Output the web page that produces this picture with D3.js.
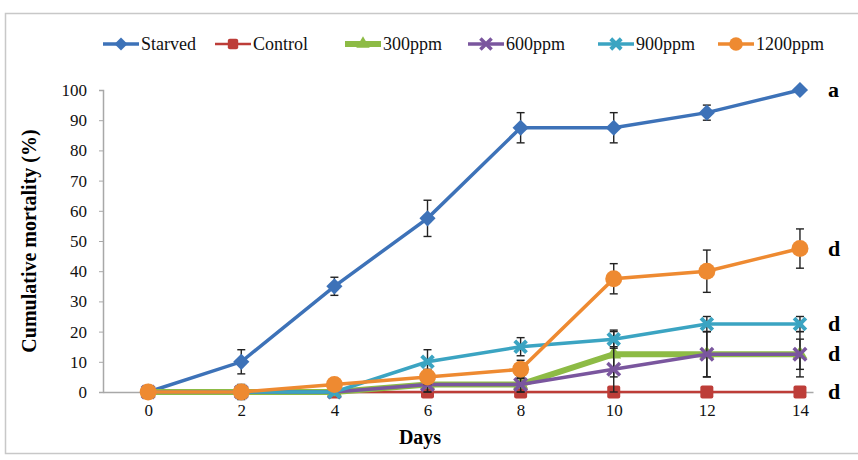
<!DOCTYPE html>
<html>
<head>
<meta charset="utf-8">
<script src="https://cdn.jsdelivr.net/npm/d3@7"></script>
<style>
  body { margin: 0; background: #fff; }
  svg { display: block; }
  svg text { font-family: "Liberation Serif", "Times New Roman", serif; }
</style>
</head>
<body>
<div id="chart"></div>
<script>
// data
const days = [0, 2, 4, 6, 8, 10, 12, 14];
const yTicks = [0, 10, 20, 30, 40, 50, 60, 70, 80, 90, 100];
const seriesNames = ["Starved", "Control", "300ppm", "600ppm", "900ppm", "1200ppm"];
const starved = [0, 10, 35, 57.5, 87.5, 87.5, 92.5, 100];
const starvedErr = [0, 4, 3, 6, 5, 5, 2.5, 0];
const control = [0, 0, 0, 0, 0, 0, 0, 0];
const controlErr = [0, 0, 0, 0, 0, 0, 0, 0];
const ppm300 = [0, 0, 0, 2.5, 2.5, 12.5, 12.5, 12.5];
const ppm300Err = [0, 2.5, 0, 2.5, 2.5, 7.5, 7.5, 5];
const ppm600 = [0, 0, 0, 2.5, 2.5, 7.5, 12.5, 12.5];
const ppm600Err = [0, 0, 0, 2.5, 2.5, 7.5, 7.5, 7.5];
const ppm900 = [0, 0, 0, 10, 15, 17.5, 22.5, 22.5];
const ppm900Err = [0, 0, 0, 4, 3, 3, 2.5, 2.5];
const ppm1200 = [0, 0, 2.5, 5, 7.5, 37.5, 40, 47.5];
const ppm1200Err = [0, 0, 2, 2.5, 3, 5, 7, 6.5];
const letters = ["a", "d", "d", "d", "d"];
const letterValues = [100, 47.5, 22.5, 12.5, 0];

const colors = ["#3d72b8", "#bd3d38", "#8dbb45", "#7a569e", "#3ba4c2", "#ee8a31"];
const shapes = ["diamond", "square", "triangle", "cross", "star", "circle"];
const values = [starved, control, ppm300, ppm600, ppm900, ppm1200];
const errors = [starvedErr, controlErr, ppm300Err, ppm600Err, ppm900Err, ppm1200Err];
const widths = [3.5, 2.5, 6, 3.5, 3.5, 3.5];

const width = 858, height = 460;
const svg = d3.select("#chart").append("svg")
  .attr("width", width).attr("height", height);

// outer frame
svg.append("rect")
  .attr("x", 5.5).attr("y", 13.5)
  .attr("width", 860).attr("height", 440)
  .attr("fill", "none").attr("stroke", "#c8c8c8").attr("stroke-width", 1.5);

const x = d3.scaleLinear().domain([-0.97, 14.28]).range([103, 813]);
const y = d3.scaleLinear().domain([0, 100]).range([392, 90]);

// axes
const yAxis = svg.append("g")
  .attr("transform", `translate(${x(-0.97)},0)`)
  .call(d3.axisLeft(y).tickValues(yTicks).tickSize(4).tickPadding(12));
const xAxis = svg.append("g")
  .attr("transform", `translate(0,${y(0)})`)
  .call(d3.axisBottom(x).tickValues(days).tickSize(0).tickPadding(12));
[xAxis, yAxis].forEach((g) => {
  g.attr("font-family", null);
  g.select(".domain").attr("stroke", "#a8a8a8").attr("stroke-width", 1.5);
  g.selectAll(".tick line").attr("stroke", "#a8a8a8");
  g.selectAll("text").attr("font-size", 17).attr("fill", "#111");
});

svg.append("text")
  .attr("transform", `translate(36,${(y(0) + y(100)) / 2}) rotate(-90)`)
  .attr("text-anchor", "middle")
  .attr("font-size", 20).attr("font-weight", "bold")
  .text("Cumulative mortality (%)");
svg.append("text")
  .attr("x", 420).attr("y", 444)
  .attr("text-anchor", "middle")
  .attr("font-size", 20).attr("font-weight", "bold")
  .text("Days");

const marker = (g, shape, color, cx, cy, s) => {
  if (shape === "diamond") {
    g.append("rect").attr("x", -s / 2.8).attr("y", -s / 2.8)
      .attr("width", s / 1.4).attr("height", s / 1.4)
      .attr("transform", `translate(${cx},${cy}) rotate(45)`).attr("fill", color);
  } else if (shape === "square") {
    g.append("rect").attr("x", cx - s / 2).attr("y", cy - s / 2)
      .attr("width", s).attr("height", s).attr("rx", 2).attr("fill", color);
  } else if (shape === "triangle") {
    g.append("path").attr("d", d3.symbol(d3.symbolTriangle, s * 8)())
      .attr("transform", `translate(${cx},${cy})`).attr("fill", color);
  } else if (shape === "cross") {
    g.append("path").attr("d", d3.symbol(d3.symbolX, s * 8)())
      .attr("transform", `translate(${cx},${cy})`)
      .attr("stroke", color).attr("stroke-width", 3.5).attr("fill", "none");
  } else if (shape === "star") {
    g.append("path").attr("d", d3.symbol(d3.symbolX, s * 7)())
      .attr("transform", `translate(${cx},${cy})`)
      .attr("stroke", color).attr("stroke-width", 4).attr("fill", "none");
    g.append("path").attr("d", d3.symbol(d3.symbolSquare, s * 3)())
      .attr("transform", `translate(${cx},${cy})`).attr("fill", color);
  } else {
    g.append("circle").attr("cx", cx).attr("cy", cy).attr("r", s / 2).attr("fill", color);
  }
};
const markerSize = [16, 13, 12, 13, 13, 17];

const line = d3.line().x((d) => x(d[0])).y((d) => y(d[1]));

seriesNames.forEach((name, k) => {
  const g = svg.append("g");
  const pts = days.map((d, i) => [d, values[k][i], errors[k][i]]);
  // error bars
  pts.forEach((p) => {
    if (p[2] <= 0) return;
    const eb = g.append("g").attr("stroke", "#222").attr("stroke-width", 1.4);
    eb.append("line").attr("x1", x(p[0])).attr("x2", x(p[0]))
      .attr("y1", y(p[1] - p[2])).attr("y2", y(p[1] + p[2]));
    [p[1] - p[2], p[1] + p[2]].forEach((v) => {
      eb.append("line").attr("x1", x(p[0]) - 4).attr("x2", x(p[0]) + 4)
        .attr("y1", y(v)).attr("y2", y(v));
    });
  });
  g.append("path").datum(pts).attr("d", line)
    .attr("fill", "none").attr("stroke", colors[k]).attr("stroke-width", widths[k]);
  pts.forEach((p) => marker(g, shapes[k], colors[k], x(p[0]), y(p[1]), markerSize[k]));
});

// significance letters
letters.forEach((l, i) => {
  svg.append("text").attr("x", 828).attr("y", y(letterValues[i]) + 7)
    .attr("font-size", 22).attr("font-weight", "bold").text(l);
});

// legend
const legendX = [103, 215, 345, 468, 598, 718];
seriesNames.forEach((name, k) => {
  const g = svg.append("g").attr("transform", `translate(${legendX[k]},44)`);
  g.append("line").attr("x1", 0).attr("x2", 36).attr("y1", 0).attr("y2", 0)
    .attr("stroke", colors[k]).attr("stroke-width", widths[k]);
  marker(g, shapes[k], colors[k], 18, 0, markerSize[k] * 0.8);
  g.append("text").attr("x", 38).attr("y", 6).attr("font-size", 18).attr("fill", "#111").text(name);
});
</script>
</body>
</html>
